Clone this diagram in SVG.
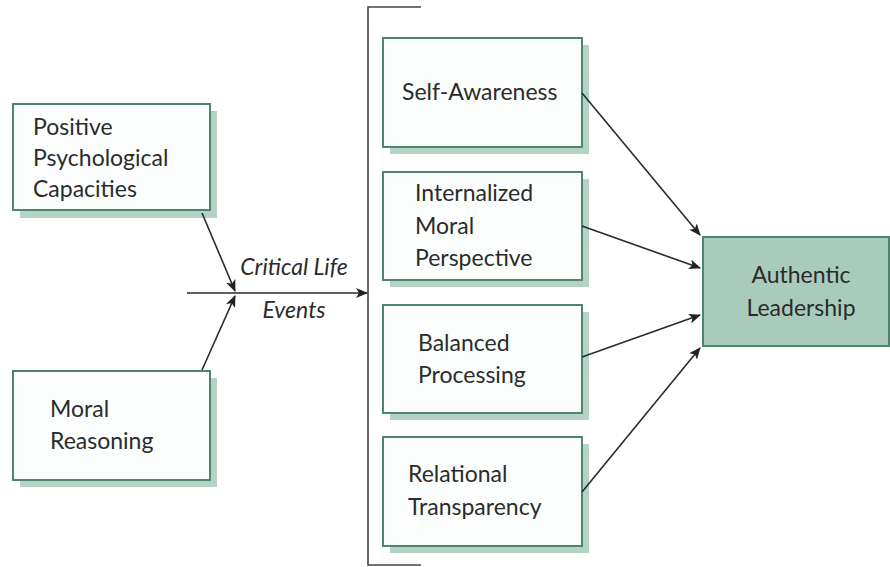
<svg xmlns="http://www.w3.org/2000/svg" width="890" height="567" viewBox="0 0 890 567">
  <defs>
    <marker id="arrow" viewBox="0 0 12 10" refX="11" refY="5" markerWidth="12" markerHeight="10" markerUnits="userSpaceOnUse" orient="auto">
      <path d="M0,0 L12,5 L0,10 L3,5 Z" fill="#222"/>
    </marker>
  </defs>
  <style>
    .shadow { fill: #b5d3c5; }
    .box { fill: #fcfefd; stroke: #4d8570; stroke-width: 2; }
    .outcome { fill: #a9cbbc; stroke: #4d8570; stroke-width: 2; }
    .label { font-family: Lato, "Liberation Sans", sans-serif; font-size: 23px; fill: #2b2b2b; }
    .mid { text-anchor: middle; }
    .ital { font-style: italic; }
    .conn { stroke: #2a2a2a; stroke-width: 1.6; fill: none; marker-end: url(#arrow); }
    .bracket { stroke: #444; stroke-width: 1.6; fill: none; }
  </style>

  <rect width="890" height="567" fill="#ffffff"/>

  <!-- bracket grouping the four components -->
  <path class="bracket" d="M421,7 H368 V565 H421"/>

  <g id="positive-capacities">
    <rect class="shadow" x="20" y="111" width="197" height="107"/>
    <rect class="box" x="13" y="104" width="197" height="106"/>
    <text class="label" x="33" y="135">Positive</text>
    <text class="label" x="33" y="166">Psychological</text>
    <text class="label" x="33" y="197">Capacities</text>
  </g>

  <g id="moral-reasoning">
    <rect class="shadow" x="20" y="378" width="197" height="109"/>
    <rect class="box" x="13" y="371" width="197" height="109"/>
    <text class="label" x="50" y="417">Moral</text>
    <text class="label" x="50" y="449">Reasoning</text>
  </g>

  <g id="self-awareness">
    <rect class="shadow" x="390" y="45" width="199" height="109"/>
    <rect class="box" x="383" y="38" width="199" height="109"/>
    <text class="label" x="402" y="100">Self-Awareness</text>
  </g>

  <g id="internalized-moral-perspective">
    <rect class="shadow" x="390" y="179" width="199" height="108"/>
    <rect class="box" x="383" y="172" width="199" height="108"/>
    <text class="label" x="415" y="201">Internalized</text>
    <text class="label" x="415" y="234">Moral</text>
    <text class="label" x="415" y="266">Perspective</text>
  </g>

  <g id="balanced-processing">
    <rect class="shadow" x="390" y="312" width="199" height="108"/>
    <rect class="box" x="383" y="305" width="199" height="108"/>
    <text class="label" x="418" y="351">Balanced</text>
    <text class="label" x="418" y="383">Processing</text>
  </g>

  <g id="relational-transparency">
    <rect class="shadow" x="390" y="444" width="199" height="109"/>
    <rect class="box" x="383" y="437" width="199" height="109"/>
    <text class="label" x="408" y="482">Relational</text>
    <text class="label" x="408" y="515">Transparency</text>
  </g>

  <g id="authentic-leadership">
    <rect class="outcome" x="703" y="237" width="186" height="109"/>
    <text class="label mid" x="801" y="283">Authentic</text>
    <text class="label mid" x="801" y="316">Leadership</text>
  </g>

  <g id="critical-life-events">
    <text class="label mid ital" x="294" y="275">Critical Life</text>
    <text class="label mid ital" x="294" y="318">Events</text>
  </g>

  <g id="connectors">
    <path class="conn" d="M202,213 L235,291"/>
    <path class="conn" d="M202,370 L235,296"/>
    <path class="conn" d="M187,293 L367,293"/>
    <path class="conn" d="M582,93 L700,235"/>
    <path class="conn" d="M582,226 L700,268"/>
    <path class="conn" d="M582,357 L700,315"/>
    <path class="conn" d="M582,492 L700,348"/>
  </g>
</svg>
